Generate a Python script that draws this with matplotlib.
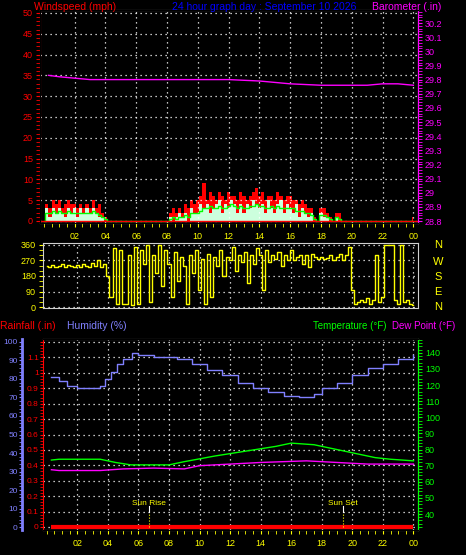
import numpy as np
import matplotlib
matplotlib.use("Agg")
import matplotlib.pyplot as plt
from matplotlib.ticker import MultipleLocator, FixedLocator

# ---------------- data ----------------
hour_ticks = [2, 4, 6, 8, 10, 12, 14, 16, 18, 20, 22, 24]
hour_labels = ["02", "04", "06", "08", "10", "12", "14", "16", "18", "20", "22", "00"]

wind_t = np.arange(121) * 0.2  # 12-minute samples, hours
wind_gust = [0,4,3,5,4, 5,3,4,5,4, 4,3,4,3,4, 3,5,3,4,2, 1,0,0,0,0,
             0,0,0,0,0, 0,0,0,0,0, 0,0,0,0,0, 0,2,3,2,3, 2,4,3,5,4,
             5,6,9,5,7, 6,5,7,6,5, 7,6,6,5,7, 6,5,6,7,8, 6,7,5,6,6,
             5,7,6,5,6, 6,5,5,4,5, 4,3,3,1,0, 3,3,2,1,0, 2,2,0,0,0,
             0,0,0,0,0, 0,0,0,0,0, 0,0,0,0,0, 0,0,0,0,0, 1]
wind_avg = [0,2,2,2.5,2, 2.5,2,2,2.5,2, 2,2,2,2,2, 2,2.5,2,1.5,1, 0.5,0,0,0,0,
            0,0,0,0,0, 0,0,0,0,0, 0,0,0,0,0, 0,0.5,1,0.5,1, 1,1.5,1,2,2,
            2,2.5,3,3,3.5, 3,3,3.5,3,3, 3.5,4,3.5,3,3.5, 3,3,3.5,3.5,4, 3.5,3.5,3,3,3.5,
            3,3.5,3,3,3, 3,3,2.5,2.5,2.5, 2,2,1.5,0.5,0, 1.5,1.5,1,0.5,0, 1,0.5,0,0,0,
            0,0,0,0,0, 0,0,0,0,0, 0,0,0,0,0, 0,0,0,0,0, 0]
wind_speed = [0,3,1,3,2, 3,2,1,3,2, 3,1,3,2,3, 2,3,2,1,1, 0,0,0,0,0,
              0,0,0,0,0, 0,0,0,0,0, 0,0,0,0,0, 0,1,0,1,2, 1,2,0,3,2,
              2,4,3,4,2, 3,4,5,2,4, 3,5,4,2,4, 2,4,3,5,4, 3,4,2,5,3,
              2,4,5,2,4, 3,2,4,1,3, 2,1,2,0,0, 2,1,1,0,0, 1,0,0,0,0,
              0,0,0,0,0, 0,0,0,0,0, 0,0,0,0,0, 0,0,0,0,0, 0]
wind_dir = [240,235,245,230,240, 250,235,245,240,230, 245,235,250,240,230, 255,240,270,230,250,
            180,60,340,20,330, 20,20,300,10,350, 20,330,250,360,30, 300,200,360,120,330,
            250,60,320,150,290, 240,20,300,200,330, 100,280,20,310,60, 290,240,330,180,290,
            270,350,210,300,260, 320,140,300,250,340, 300,100,330,260,300, 280,320,240,300,270,
            330,270,290,300,250, 300,230,310,290,280, 290,280,285,300,270, 290,310,270,300,350,
            100,20,30,40,30, 50,20,40,300,30, 60,360,360,360,40, 20,360,30,40,20, 10]

baro_t = [0.3, 1, 2, 3, 4, 6, 8, 10, 12, 14, 15, 16, 18, 20, 21, 22, 23, 24]
baro_v = [29.83, 29.82, 29.81, 29.80, 29.80, 29.80, 29.80, 29.80, 29.80, 29.79, 29.78, 29.77,
          29.76, 29.76, 29.76, 29.77, 29.77, 29.76]

hum_t = [0.3, 0.8, 1.3, 2.0, 3.5, 3.8, 4.2, 4.6, 5.0, 5.6, 6.0, 7.0, 8.5, 9.5, 10.5, 11.5,
         12.5, 13.5, 14.5, 15.5, 16.5, 17.5, 18.0, 19.0, 20.0, 21.0, 22.0, 23.0, 24.0]
hum_v = [81, 79, 76, 75, 76, 80, 84, 88, 91, 94, 93, 92, 91, 88, 85, 82, 78, 75, 73, 71, 70,
         72, 75, 78, 82, 86, 88, 91, 93]

temp_t = [0.3, 0.8, 1.0, 3.5, 4.5, 5.5, 8.0, 9.0, 11.0, 13.0, 15.0, 16.0, 17.5, 19.0, 20.5,
          21.5, 22.5, 24.0]
temp_v = [73.5, 74, 74, 74, 72, 70.5, 70.5, 72.5, 76, 79, 82, 84, 83, 80, 77, 75, 74, 73]
dew_t = [0.3, 0.8, 1.0, 3.5, 5.0, 7.0, 9.0, 10.0, 12.0, 14.0, 17.0, 19.0, 21.0, 24.0]
dew_v = [67.5, 67, 67, 67, 68, 68.5, 68, 70, 71, 72, 73, 72, 71, 71]

rain_t = [0.3, 24.0]
rain_v = [0.0, 0.0]

sun_rise, sun_set = 6.7, 19.4

# ---------------- style ----------------
W, H = 466, 555
plt.rcParams["font.family"] = ["Liberation Sans", "DejaVu Sans"]
fig = plt.figure(figsize=(W / 100, H / 100), dpi=100, facecolor="black")
FS = 6.5
TFS = 7.5
RED, MAG, YEL, GRN, BLU = "#ff0000", "#ff00ff", "#ffff00", "#00ff00", "#8080ff"
XLIM = (-0.25, 24.3)

def box(l, t, r, b):
    return [l / W, 1 - b / H, (r - l) / W, (b - t) / H]

def base(ax):
    ax.set_facecolor("black")
    for s in ax.spines.values():
        s.set_color("#d0d0d0")
    ax.set_xlim(*XLIM)
    ax.xaxis.set_major_locator(FixedLocator(hour_ticks))
    ax.xaxis.set_minor_locator(MultipleLocator(0.5))
    ax.grid(True, which="major", color="white", linestyle=(0, (1, 3)), linewidth=0.9)
    ax.tick_params(axis="x", colors=YEL, labelsize=FS, length=3, which="both")

# ---------------- top panel ----------------
ax1 = fig.add_axes(box(40, 10, 418, 223))
base(ax1)
ax1.set_xticklabels(hour_labels)
ax1.set_ylim(-0.5, 50.7)
ax1.yaxis.set_major_locator(MultipleLocator(5))
ax1.yaxis.set_minor_locator(MultipleLocator(1))
ax1.tick_params(axis="y", colors=RED, labelsize=FS, length=3, which="both", pad=2)
ax1.spines["left"].set_color(RED)
ax1.fill_between(wind_t, 0, wind_gust, step="mid", color=RED, lw=0)
ax1.fill_between(wind_t, 0, wind_speed, step="mid", color="#ccffdd", lw=0)
ax1.step(wind_t, wind_avg, where="mid", color=GRN, lw=1)
ax1.plot(XLIM, [0, 0], color=RED, lw=1)
ax1b = ax1.twinx()
ax1b.set_ylim(28.786, 30.292)
ax1b.yaxis.set_major_locator(MultipleLocator(0.1))
ax1b.yaxis.set_minor_locator(MultipleLocator(0.02))
ax1b.yaxis.set_major_formatter(lambda v, p: f"{v:.0f}" if abs(v - round(v)) < 1e-6 else f"{v:.1f}")
ax1b.tick_params(axis="y", colors=MAG, labelsize=FS, length=3, which="both", pad=2)
ax1b.spines["right"].set_color(MAG)
ax1b.plot(baro_t, baro_v, color=MAG, lw=1)

fig.text(34 / W, 1 - 7 / H, "Windspeed (mph)", color=RED, fontsize=TFS, va="center")
fig.text(172 / W, 1 - 7 / H, "24 hour graph day : September 10 2026", color="#0000ff",
         fontsize=TFS, va="center")
fig.text(372 / W, 1 - 7 / H, "Barometer (.in)", color=MAG, fontsize=TFS, va="center")

# ---------------- middle panel ----------------
ax2 = fig.add_axes(box(43, 243, 418, 308))
base(ax2)
ax2.set_xticklabels([])
ax2.tick_params(axis="x", length=0, which="both")
ax2.set_ylim(-5.8, 371.6)
ax2.yaxis.set_major_locator(FixedLocator([0, 90, 180, 270, 360]))
ax2.yaxis.set_minor_locator(MultipleLocator(30))
ax2.tick_params(axis="y", colors=YEL, labelsize=FS, length=3, which="both", pad=2)
ax2.step(wind_t, wind_dir, where="mid", color=YEL, lw=1)
for lab, yy in zip("NWSEN", [245, 262, 277, 292, 307]):
    fig.text(438 / W, 1 - yy / H, lab, color=YEL, fontsize=8, ha="center", va="center")

# ---------------- bottom panel ----------------
ax3 = fig.add_axes(box(43, 339, 418, 530))
base(ax3)
ax3.set_xticklabels(hour_labels)
ax3.set_ylim(-0.0195, 1.2195)
ax3.yaxis.set_major_locator(MultipleLocator(0.1))
ax3.yaxis.set_minor_locator(MultipleLocator(0.02))
ax3.yaxis.set_major_formatter(lambda v, p: "0" if abs(v) < 1e-9 else ("1" if abs(v - 1) < 1e-9 else ("" if v > 1.15 else f"{v:.1f}")))
ax3.tick_params(axis="y", colors=RED, labelsize=6, length=2, which="both", pad=1)
ax3.spines["left"].set_color(RED)
ax3.plot(rain_t, rain_v, color=RED, lw=3, solid_capstyle="butt")

ax3h = ax3.twinx()
ax3h.set_ylim(-1.6, 101.6)
ax3h.yaxis.tick_left()
ax3h.spines["left"].set_position(("axes", -(43 - 22) / 375))
ax3h.spines["left"].set_visible(True)
ax3h.spines["left"].set_color(BLU)
ax3h.spines["left"].set_linewidth(2)
ax3h.spines["right"].set_visible(False)
ax3h.yaxis.set_major_locator(MultipleLocator(10))
ax3h.yaxis.set_minor_locator(MultipleLocator(2))
ax3h.tick_params(axis="y", colors=BLU, labelsize=6, length=2, which="both", pad=1)
ax3h.step(hum_t, hum_v, where="post", color=BLU, lw=1)

ax3t = ax3.twinx()
ax3t.set_ylim(30.1, 148.6)
ax3t.yaxis.set_major_locator(MultipleLocator(10))
ax3t.yaxis.set_minor_locator(MultipleLocator(2))
ax3t.tick_params(axis="y", colors=GRN, labelsize=FS, length=3, which="both", pad=2)
ax3t.spines["right"].set_color(GRN)
ax3t.spines["left"].set_visible(False)
ax3t.plot(temp_t, temp_v, color=GRN, lw=1)
ax3t.plot(dew_t, dew_v, color=MAG, lw=1)
ax3t.set_ylim(30.1, 148.6)

for xs, lab in [(sun_rise, "Sun Rise"), (sun_set, "Sun Set")]:
    ax3.plot([xs, xs], [0, 0.1], color=YEL, lw=0.8, linestyle=":")
    ax3.plot([xs, xs], [0.1, 0.135], color="white", lw=0.8)
    ax3.text(xs, 0.155, lab, color=YEL, fontsize=6, ha="center", va="center")

fig.text(0.5 / W, 1 - 326 / H, "Rainfall (.in)", color=RED, fontsize=TFS, va="center")
fig.text(67 / W, 1 - 326 / H, "Humidity (%)", color=BLU, fontsize=TFS, va="center")
fig.text(313 / W, 1 - 326 / H, "Temperature (°F)", color=GRN, fontsize=7, va="center")
fig.text(392 / W, 1 - 326 / H, "Dew Point (°F)", color=MAG, fontsize=7, va="center")

fig.savefig("out.png", dpi=100, facecolor="black")
